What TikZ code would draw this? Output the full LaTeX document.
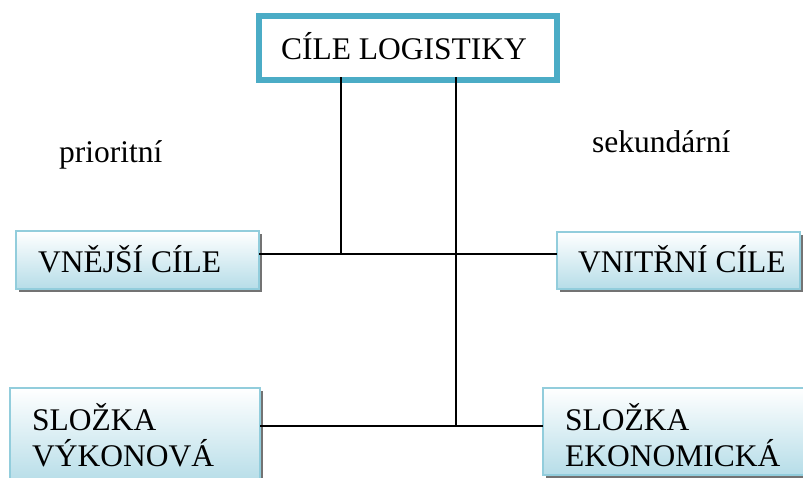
\documentclass[tikz,border=0pt]{standalone}
\usepackage{fontspec}
\setmainfont{Liberation Serif}
\usetikzlibrary{shadows}
\definecolor{framecol}{HTML}{4BACC6}
\definecolor{boxline}{HTML}{92CDDC}
\definecolor{boxbot}{HTML}{B6DDE8}
\begin{document}
\begin{tikzpicture}[x=1pt,y=-1pt,
  bigtext/.style={font=\fontsize{31.5}{36}\selectfont, inner sep=0pt, align=left},
  gbox/.style={draw=boxline, line width=1.5pt, top color=white, bottom color=boxbot,
     outer sep=0pt, inner sep=0pt, anchor=north west,
     drop shadow={shadow xshift=3pt, shadow yshift=-3pt, fill=black!55, opacity=1}},
  conn/.style={line width=1.4pt, draw=black}]
\useasboundingbox (0,0) rectangle (803,477);
\fill[white] (0,0) rectangle (803,477);
% top box
\node[draw=framecol, line width=6pt, fill=white, minimum width=298pt, minimum height=64pt,
      outer sep=0pt, inner sep=0pt, anchor=north west] (top) at (259,16) {};
\node[bigtext, anchor=base] (topt) at (404,59) {CÍLE LOGISTIKY};
% side labels
\node[bigtext, anchor=base west] (prio) at (59,162) {prioritní};
\node[bigtext, anchor=base west] (seku) at (592,152) {sekundární};
% boxes
\node[gbox, minimum width=243pt, minimum height=58pt] (vnej) at (16,231) {};
\node[bigtext, anchor=base west] (vnejt) at (38,272) {VNĚJŠÍ CÍLE};
\node[gbox, minimum width=243pt, minimum height=57pt] (vnit) at (557,232) {};
\node[bigtext, anchor=base west] (vnitt) at (578,272) {VNITŘNÍ CÍLE};
\node[gbox, minimum width=250pt, minimum height=95pt] (slv) at (10,388) {};
\node[bigtext, anchor=base west] (slvt) at (32,466) {SLOŽKA\\VÝKONOVÁ};
\node[gbox, minimum width=265pt, minimum height=87pt] (sle) at (543,388) {};
\node[bigtext, anchor=base west] (slet) at (565,466) {SLOŽKA\\EKONOMICKÁ};
% connectors
\coordinate (h1) at (341,254);
\coordinate (h2) at (456,426);
\draw[conn] (vnej.east |- h1) -- (vnit.west |- h1);
\draw[conn] ([yshift=3pt]top.south -| h1) -- (h1);
\draw[conn] ([yshift=3pt]top.south -| h2) -- (h2);
\draw[conn] (slv.east |- h2) -- (sle.west |- h2);
\end{tikzpicture}
\end{document}
